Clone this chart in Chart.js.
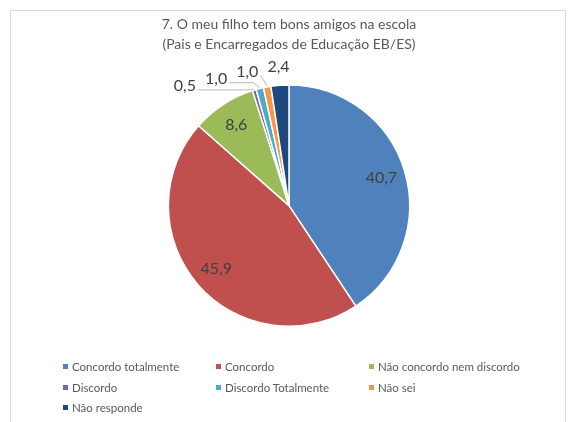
<!DOCTYPE html>
<html>
<head>
<meta charset="utf-8">
<script src="https://cdn.jsdelivr.net/npm/chart.js@4.4.0/dist/chart.umd.min.js"></script>
<style>
  body { margin: 0; background: #fff; }
  #wrap { position: relative; width: 571px; height: 422px; overflow: hidden; }
  #frame { position: absolute; left: 10px; top: 10px; width: 556px; height: 430px; border: 1px solid #d9d9d9; box-sizing: border-box; }
  #legend { position: absolute; left: 0; top: 0; font-family: Lato, sans-serif; font-size: 11.5px; color: #595959; }
  #legend div { position: absolute; white-space: nowrap; line-height: 14px; }
  #legend span { display: inline-block; width: 5px; height: 5px; margin-right: 4px; vertical-align: 2px; }
</style>
</head>
<body>
<div id="wrap">
  <div id="frame"></div>
  <canvas id="myChart" width="571" height="422"></canvas>
  <div id="legend"></div>
</div>
<script>
// Dados
const categorias = ['Concordo totalmente', 'Concordo', 'Não concordo nem discordo', 'Discordo', 'Discordo Totalmente', 'Não sei', 'Não responde'];
const valores = [40.7, 45.9, 8.6, 0.5, 1.0, 1.0, 2.4];
const cores = ['#4f81bd', '#c0504d', '#9bbb59', '#8064a2', '#4bacc6', '#f79646', '#1f497d'];
const titulo = ['7. O meu filho tem bons amigos na escola', '(Pais e Encarregados de Educação EB/ES)'];

const fmt = v => v.toFixed(1).replace('.', ',');

// Rótulos de dados (dentro para fatias grandes, fora com linha de chamada para as pequenas)
const rotulos = {
  id: 'rotulos',
  afterDatasetsDraw(chart) {
    const c = chart.ctx;
    const arcs = chart.getDatasetMeta(0).data;
    c.save();
    c.font = '16px Lato, sans-serif';
    c.textAlign = 'center';
    c.textBaseline = 'middle';
    c.fillStyle = '#404040';
    let limite = null; // x máximo permitido para o próximo rótulo exterior
    for (let i = arcs.length - 1; i >= 0; i--) {
      const a = arcs[i];
      const mid = (a.startAngle + a.endAngle) / 2;
      const txt = fmt(valores[i]);
      const w = c.measureText(txt).width;
      if (valores[i] >= 5) {
        const r = a.outerRadius * 0.8;
        c.fillText(txt, a.x + Math.cos(mid) * r, a.y + Math.sin(mid) * r);
        continue;
      }
      const R = a.outerRadius + 19;
      let lx = a.x + Math.cos(mid) * R;
      let ly = a.y + Math.sin(mid) * R;
      if (limite !== null && lx + w / 2 > limite) {
        const desvio = lx + w / 2 - limite;
        lx -= desvio;
        ly += desvio * 0.22;
      }
      c.fillText(txt, lx, ly);
      limite = lx - w / 2 - 9;
      // linha de chamada
      const ax = a.x + Math.cos(mid) * (a.outerRadius + 1);
      const ay = a.y + Math.sin(mid) * (a.outerRadius + 1);
      if (Math.hypot(ax - lx, ay - ly) > 24) {
        const sx = lx + w / 2 + 2, sy = ly + 4;
        c.strokeStyle = '#a6a6a6';
        c.lineWidth = 0.8;
        c.beginPath();
        c.moveTo(sx, sy);
        if (ax - 6 > sx) c.lineTo(ax - 6, sy);
        c.lineTo(ax, ay);
        c.stroke();
      }
    }
    c.restore();
  }
};

const ctx = document.getElementById('myChart').getContext('2d');
const myChart = new Chart(ctx, {
  type: 'pie',
  data: {
    labels: categorias,
    datasets: [{
      data: valores,
      backgroundColor: cores,
      borderColor: '#ffffff',
      borderWidth: 1.5
    }]
  },
  options: {
    responsive: false,
    animation: false,
    layout: { padding: { top: 15, bottom: 95, left: 100, right: 93 } },
    plugins: {
      legend: { display: false },
      tooltip: { enabled: false },
      title: {
        display: true,
        text: titulo,
        color: '#595959',
        font: { family: 'Lato, sans-serif', size: 14, weight: 'normal', lineHeight: 1.4 },
        padding: { top: 0, bottom: 30 }
      }
    }
  },
  plugins: [rotulos]
});

// Legenda (3 colunas, alinhada à esquerda)
const colX = [63, 216, 369];
const rowY = [360, 381, 401];
const leg = document.getElementById('legend');
categorias.forEach((nome, i) => {
  const d = document.createElement('div');
  d.style.left = colX[i % 3] + 'px';
  d.style.top = rowY[Math.floor(i / 3)] + 'px';
  d.innerHTML = '<span style="background:' + cores[i] + '"></span>' + nome;
  leg.appendChild(d);
});
</script>
</body>
</html>
